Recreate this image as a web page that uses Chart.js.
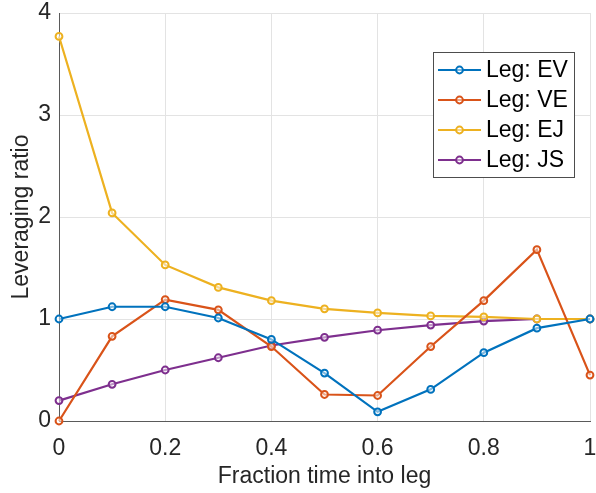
<!DOCTYPE html>
<html>
<head>
<meta charset="utf-8">
<script src="https://cdn.jsdelivr.net/npm/chart.js@4"></script>
<style>
  html, body { margin: 0; padding: 0; background: #ffffff; }
  #wrap { width: 596px; height: 493px; }
</style>
</head>
<body>
<div id="wrap"><canvas id="leverChart" width="596" height="493"></canvas></div>
<script>
// fraction of time into leg
const fractions = [0, 0.1, 0.2, 0.3, 0.4, 0.5, 0.6, 0.7, 0.8, 0.9, 1];

// leveraging ratio per leg
const legEV = [1.00, 1.12, 1.12, 1.01, 0.80, 0.47, 0.09, 0.31, 0.67, 0.91, 1.00];
const legVE = [0.00, 0.83, 1.19, 1.09, 0.73, 0.26, 0.25, 0.73, 1.18, 1.68, 0.45];
const legEJ = [3.77, 2.04, 1.53, 1.31, 1.18, 1.10, 1.06, 1.03, 1.02, 1.00, 1.00];
const legJS = [0.20, 0.36, 0.50, 0.62, 0.74, 0.82, 0.89, 0.94, 0.98, 1.00, 1.00];

const legNames = ['Leg: EV', 'Leg: VE', 'Leg: EJ', 'Leg: JS'];
const legColors = ['#0072BD', '#D95319', '#EDB120', '#7E2F8E'];

const xTicks = [0, 0.2, 0.4, 0.6, 0.8, 1];
const yTicks = [0, 1, 2, 3, 4];

const FONT = 'Liberation Sans, Arial, sans-serif';
const FONT_SIZE = 23;
const TEXT = '#262626';

function toPoints(values) {
    return values.map((v, i) => ({ x: fractions[i], y: v }));
}

const series = [legEV, legVE, legEJ, legJS];

const datasets = series.map((vals, i) => ({
    label: legNames[i],
    data: toPoints(vals),
    borderColor: legColors[i],
    backgroundColor: legColors[i],
    borderWidth: 2.2,
    pointRadius: 3.4,
    pointBorderWidth: 2,
    pointBackgroundColor: 'rgba(255,255,255,0.5)',
    pointBorderColor: legColors[i],
    tension: 0,
    clip: false
}));

// legend box in the upper right, line + marker samples
const boxLegend = {
    id: 'boxLegend',
    afterDraw(chart) {
        const ctx = chart.ctx;
        const left = 433, top = 52, w = 141, h = 125;
        ctx.save();
        ctx.fillStyle = '#ffffff';
        ctx.fillRect(left, top, w, h);
        ctx.strokeStyle = '#4d4d4d';
        ctx.lineWidth = 1;
        ctx.strokeRect(left + 0.5, top + 0.5, w, h);
        ctx.font = FONT_SIZE + 'px ' + FONT;
        ctx.textBaseline = 'middle';
        chart.data.datasets.forEach((ds, i) => {
            const y = top + 18 + i * 30;
            ctx.strokeStyle = ds.borderColor;
            ctx.lineWidth = 2.2;
            ctx.beginPath();
            ctx.moveTo(left + 5, y);
            ctx.lineTo(left + 48, y);
            ctx.stroke();
            ctx.beginPath();
            ctx.arc(left + 26.5, y, 3.4, 0, Math.PI * 2);
            ctx.fillStyle = 'rgba(255,255,255,0.5)';
            ctx.fill();
            ctx.lineWidth = 2;
            ctx.stroke();
            ctx.fillStyle = '#000000';
            ctx.fillText(ds.label, left + 53, y + 1);
        });
        ctx.restore();
    }
};

new Chart(document.getElementById('leverChart'), {
    type: 'line',
    data: { datasets: datasets },
    plugins: [boxLegend],
    options: {
        responsive: false,
        animation: false,
        layout: { padding: { top: 13, right: 5, left: 0, bottom: 0 } },
        plugins: {
            legend: { display: false },
            tooltip: { enabled: false }
        },
        scales: {
            x: {
                type: 'linear',
                min: 0,
                max: 1,
                afterBuildTicks: scale => { scale.ticks = xTicks.map(v => ({ value: v })); },
                afterFit: scale => {
                    scale.height = 72;
                    scale.paddingLeft = 0;
                    scale.paddingRight = 0;
                },
                ticks: {
                    color: TEXT,
                    padding: 14,
                    maxRotation: 0,
                    font: { family: FONT, size: FONT_SIZE },
                    callback: v => String(v)
                },
                grid: { color: '#e3e3e3', tickLength: 0, lineWidth: 1 },
                border: { color: '#5a5a5a', width: 1 },
                title: {
                    display: true,
                    text: 'Fraction time into leg',
                    color: TEXT,
                    font: { family: FONT, size: FONT_SIZE },
                    padding: { top: 0, bottom: 3 }
                }
            },
            y: {
                type: 'linear',
                min: 0,
                max: 4,
                afterBuildTicks: scale => { scale.ticks = yTicks.map(v => ({ value: v })); },
                afterFit: scale => {
                    scale.width = 59;
                    scale.paddingTop = 0;
                    scale.paddingBottom = 0;
                },
                ticks: {
                    color: TEXT,
                    padding: 8,
                    font: { family: FONT, size: FONT_SIZE }
                },
                grid: { color: '#e3e3e3', tickLength: 0, lineWidth: 1 },
                border: { color: '#5a5a5a', width: 1 },
                title: {
                    display: true,
                    text: 'Leveraging ratio',
                    color: TEXT,
                    font: { family: FONT, size: FONT_SIZE },
                    padding: { top: 8, bottom: 4 }
                }
            }
        }
    }
});
</script>
</body>
</html>
